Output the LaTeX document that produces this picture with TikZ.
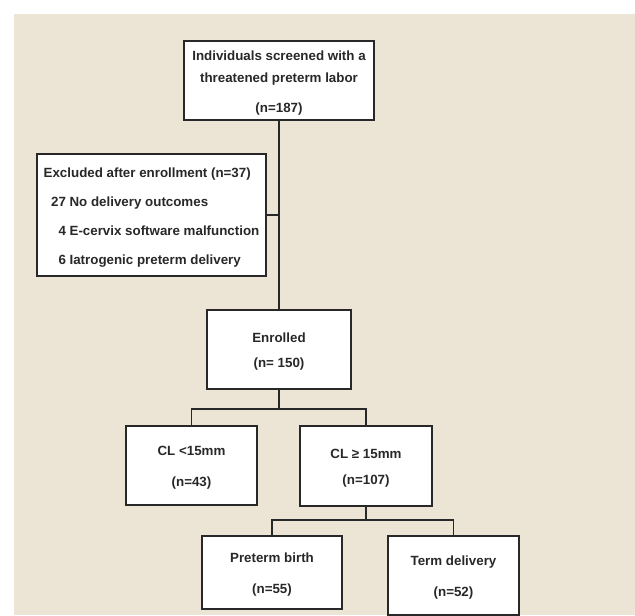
\documentclass[tikz,border=0pt]{standalone}
\usepackage{fontspec}
\setmainfont{Liberation Sans}
\definecolor{paper}{RGB}{236,229,214}
\definecolor{ink}{RGB}{40,40,40}
\newcommand\lift{\rule{0pt}{11pt}}
\tikzset{
  box/.style={draw=ink, fill=white, line width=0.9pt, inner sep=0pt,
    align=center, text=ink, font=\bfseries\fontsize{10}{12}\selectfont},
  link/.style={draw=ink, line width=0.9pt}
}
\begin{document}
\begin{tikzpicture}[x=0.75pt,y=-0.75pt]
  \useasboundingbox (0,0) rectangle (635,616);
  \fill[paper] (14,14) rectangle (635,615);
  \node[box, minimum width=142.5pt, minimum height=59.25pt] (screen) at (279,80.5)
    {\lift Individuals screened with a\\[4.5pt] threatened preterm labor\\[10.5pt] (n=187)};
  \node[box, minimum width=171.75pt, minimum height=91.5pt, align=left] (excl) at (151.5,215)
    {\lift Excluded after enrollment (n=37)\\[9.75pt]
     \phantom{0}27 No delivery outcomes\\[9.75pt]
     \phantom{00}4 E-cervix software malfunction\\[9.75pt]
     \phantom{00}6 Iatrogenic preterm delivery};
  \node[box, minimum width=108pt, minimum height=59.25pt] (enrol) at (279,349.5)
    {\lift Enrolled\\[6.75pt] (n= 150)};
  \node[box, minimum width=98.25pt, minimum height=59.25pt] (short) at (191.5,465.5)
    {\lift CL <15mm\\[11.25pt] (n=43)};
  \node[box, minimum width=99pt, minimum height=60pt] (long) at (366,466)
    {\lift CL ≥ 15mm\\[7.5pt] (n=107)};
  \node[box, minimum width=105pt, minimum height=54.75pt] (preterm) at (272,572.5)
    {\lift Preterm birth\\[11.25pt] (n=55)};
  \node[box, minimum width=98.25pt, minimum height=59.25pt] (term) at (453.5,575.5)
    {\lift Term delivery\\[11.25pt] (n=52)};
  \coordinate (split1) at (279,409);
  \coordinate (split2) at (366,520);
  \begin{scope}[link]
    \draw (screen) -- (enrol);
    \draw (excl.east) -- (excl.east -| screen.south);
    \draw (enrol) -- (split1);
    \draw (short.north) |- (split1) -| (long.north);
    \draw (long) -- (split2);
    \draw (preterm.north) |- (split2) -| (term.north);
  \end{scope}
\end{tikzpicture}
\end{document}
